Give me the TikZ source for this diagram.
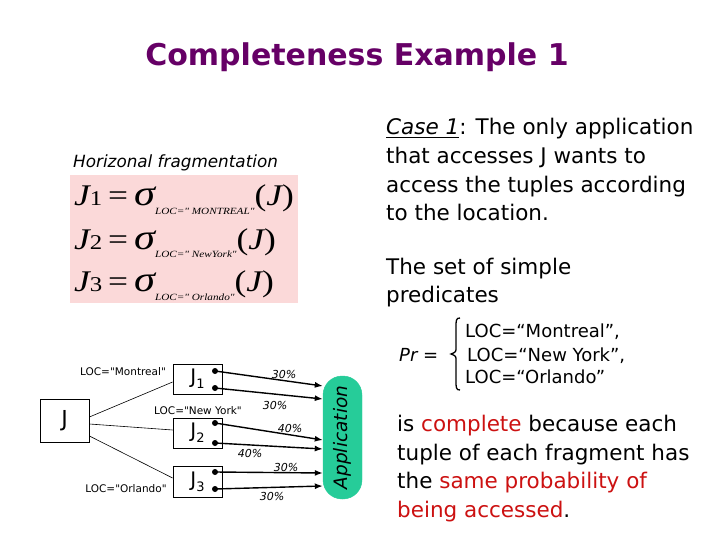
\documentclass[tikz,border=0pt]{standalone}
\usepackage{fontspec}
\setmainfont{DejaVu Sans}[Ligatures=TeXOff]
\newfontfamily\timesf{Liberation Serif}[Ligatures=TeXOff]
\usetikzlibrary{arrows.meta}
\definecolor{ttlpurple}{RGB}{102,0,102}
\definecolor{hlred}{RGB}{204,17,17}
\definecolor{pinkbg}{RGB}{251,217,217}
\definecolor{appgreen}{RGB}{38,204,153}
\tikzset{
  txt/.style={anchor=base west,inner sep=0pt,font=\fontsize{21.5}{21.5}\selectfont},
  prtxt/.style={anchor=base west,inner sep=0pt,font=\fontsize{18}{18}\selectfont},
  eqn/.style={anchor=base west,inner sep=0pt,font=\timesf\fontsize{30}{30}\selectfont},
  locl/.style={inner sep=0pt,font=\fontsize{10.5}{10.5}\selectfont},
  pct/.style={inner sep=0pt,font=\fontsize{11}{11}\selectfont\itshape},
  frag/.style={draw,line width=0.8pt,minimum width=49pt,minimum height=30pt,inner sep=0pt},
  dotn/.style={circle,fill,inner sep=0pt,minimum size=6pt},
  link/.style={line width=0.6pt},
  acc/.style={line width=1.4pt,-{Latex[length=8pt,width=6pt]}}
}
\newcommand{\Jsub}[1]{\fontsize{20}{20}\selectfont J\raisebox{-5pt}{\fontsize{13}{13}\selectfont #1}}
\newcommand{\eqline}[2]{\scalebox{1.18}[1]{\itshape J\upshape{\fontsize{21}{21}\selectfont #1}\,=\,{\fontsize{36}{36}\selectfont\itshape σ}\raisebox{-9pt}{\fontsize{9.5}{9.5}\selectfont\itshape #2}(\itshape J\upshape)}}
\begin{document}
\begin{tikzpicture}[x=1pt,y=-1pt]
\useasboundingbox (0,0) rectangle (720,540);
% title
\node[inner sep=0pt,text=ttlpurple,font=\fontsize{30}{30}\selectfont\bfseries] (title) at (357,57) {Completeness Example 1};
% left top
\node[anchor=base west,inner sep=0pt,font=\fontsize{16.8}{16.8}\selectfont\itshape] (hf) at (73,168) {Horizonal fragmentation};
\fill[pinkbg] (70,175) rectangle (298,303);
\node[eqn] (e1) at (74,206) {\eqline{1}{LOC=" MONTREAL"}};
\node[eqn] (e2) at (74,249) {\eqline{2}{LOC=" NewYork"}};
\node[eqn] (e3) at (74,291) {\eqline{3}{LOC=" Orlando"}};
% right text
\node[txt] (c1) at (386,135) {\underline{\itshape Case 1}: The only application};
\node[txt] (c2) at (386,164) {that accesses J wants to};
\node[txt] (c3) at (386,193) {access the tuples according};
\node[txt] (c4) at (386,221) {to the location.};
\node[txt] (s1) at (386,274) {The set of simple};
\node[txt] (s2) at (386,302) {predicates};
% Pr
\node[prtxt,font=\fontsize{18}{18}\selectfont\itshape] (pr) at (399,361) {Pr\upshape\ =};
\draw[line width=1.3pt] (460,318) .. controls (456,318) and (456,320) .. (456,328) -- (456,347) .. controls (456,352) .. (451,354) .. controls (456,356) .. (456,361) -- (456,380) .. controls (456,388) and (456,390) .. (460,390);
\node[prtxt] (p1) at (465,337) {LOC=“Montreal”,};
\node[prtxt] (p2) at (467,361) {LOC=“New York”,};
\node[prtxt] (p3) at (465,383) {LOC=“Orlando”};
% bottom text
\node[txt] (b1) at (397,431) {is \textcolor{hlred}{complete} because each};
\node[txt] (b2) at (397,460) {tuple of each fragment has};
\node[txt] (b3) at (397,488) {the \textcolor{hlred}{same probability of}};
\node[txt] (b4) at (397,517) {\textcolor{hlred}{being accessed}.};
% diagram
\node[frag,minimum width=49pt,minimum height=43pt,font=\fontsize{22}{22}\selectfont] (J) at (64.5,420.5) {J};
\node[frag] (J1) at (197.5,379) {\Jsub{1}};
\node[frag] (J2) at (197.5,433) {\Jsub{2}};
\node[frag,minimum height=31pt] (J3) at (197.5,481.5) {\Jsub{3}};
\node[locl] (l1) at (123,372) {LOC="Montreal"};
\node[locl] (l2) at (198,411) {LOC="New York"};
\node[locl] (l3) at (126,489) {LOC="Orlando"};
\draw[link] ([yshift=3.5pt]J.east) -- ([yshift=-3pt]J1.west);
\draw[link] ([yshift=-3.5pt]J.east) -- ([yshift=3pt]J2.west);
\draw[link] ([yshift=-15.5pt]J.east) -- ([yshift=3.5pt]J3.west);
\node[draw=appgreen,fill=appgreen,rounded corners=19pt,minimum width=39pt,minimum height=123pt,inner sep=0pt] (App) at (342.5,437.5) {};
\node[rotate=90,inner sep=0pt,font=\fontsize{18.5}{18.5}\selectfont\itshape] (apptxt) at (App.center) {Application};
\node[dotn] (d11) at (215,371) {};
\node[dotn] (d12) at (215,388) {};
\node[dotn] (d21) at (215,423) {};
\node[dotn] (d22) at (215,443) {};
\node[dotn] (d31) at (215,472) {};
\node[dotn] (d32) at (215,489) {};
\draw[acc] (d11.center) -- ([yshift=51.5pt]App.west);
\draw[acc] (d12.center) -- ([yshift=38.5pt]App.west);
\draw[acc] (d21.center) -- ([yshift=-2.5pt]App.west);
\draw[acc] (d22.center) -- ([yshift=-11.5pt]App.west);
\draw[acc] (d31.center) -- ([yshift=-35.5pt]App.west);
\draw[acc] (d32.center) -- ([yshift=-48.5pt]App.west);
\node[pct] (q1) at (284,374) {30\%};
\node[pct] (q2) at (275,405) {30\%};
\node[pct] (q3) at (290,428) {40\%};
\node[pct] (q4) at (250,453) {40\%};
\node[pct] (q5) at (286,467) {30\%};
\node[pct] (q6) at (272,496) {30\%};
\end{tikzpicture}
\end{document}
